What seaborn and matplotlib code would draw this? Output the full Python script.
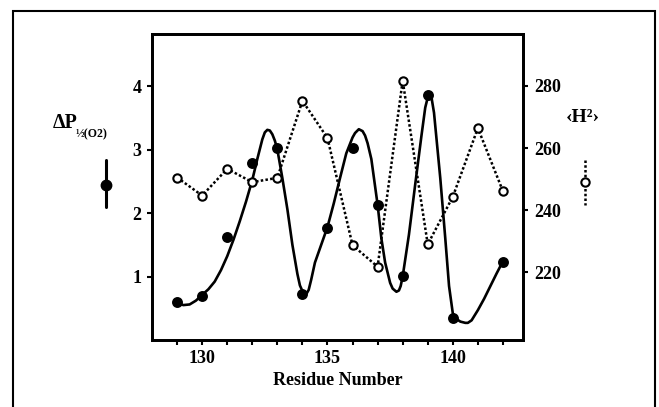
"""Delta P1/2(O2) and <H^2> versus residue number, twin-axis chart."""

import matplotlib

matplotlib.use("Agg")
import matplotlib.pyplot as plt
import seaborn as sns
from matplotlib.lines import Line2D
from matplotlib.patches import Rectangle

# measured oxygen affinity change (left axis, filled circles)
residue_dp = [129, 130, 131, 132, 133, 134, 135, 136, 137, 138, 139, 140, 142]
delta_p = [0.60, 0.70, 1.62, 2.79, 3.02, 0.73, 1.77, 3.02, 2.13, 1.01, 3.86, 0.35, 1.23]

# hydrophobic moment <H^2> (right axis, open circles, dotted)
residue_h = list(range(129, 143))
h_moment = [250.5, 244.7, 253.3, 249.0, 250.4, 275.2, 263.2,
            228.7, 221.8, 281.7, 229.0, 244.3, 266.4, 246.1]

# smooth curve drawn through the delta P data
curve_x = [129.0, 129.25, 129.5, 129.75, 130.0, 130.25, 130.5, 130.75, 131.0,
           131.25, 131.5, 131.75, 132.0, 132.2, 132.4, 132.5, 132.6, 132.7,
           132.8, 132.9, 133.0, 133.2, 133.4, 133.6, 133.8, 133.9, 134.0,
           134.1, 134.18, 134.25, 134.35, 134.5, 134.75, 135.0, 135.25, 135.5,
           135.75, 136.0, 136.1, 136.25, 136.4, 136.5, 136.6, 136.75, 137.0,
           137.15, 137.3, 137.5, 137.6, 137.75, 137.85, 137.92, 138.0, 138.25,
           138.5, 138.75, 138.9, 139.0, 139.08, 139.15, 139.25, 139.5, 139.7,
           139.85, 140.0, 140.15, 140.3, 140.5, 140.6, 140.75, 141.0, 141.25,
           141.5, 141.75, 142.0]
curve_y = [0.58, 0.55, 0.56, 0.62, 0.71, 0.80, 0.92, 1.10, 1.32,
           1.58, 1.87, 2.18, 2.52, 2.85, 3.16, 3.27, 3.31, 3.30,
           3.24, 3.14, 3.00, 2.55, 2.06, 1.50, 1.04, 0.86, 0.77,
           0.73, 0.74, 0.79, 0.95, 1.22, 1.50, 1.78, 2.15, 2.55,
           2.94, 3.19, 3.26, 3.32, 3.29, 3.22, 3.10, 2.85, 2.13,
           1.60, 1.22, 0.90, 0.81, 0.76, 0.78, 0.85, 1.00, 1.66,
           2.45, 3.22, 3.66, 3.82, 3.86, 3.82, 3.58, 2.55, 1.60,
           0.85, 0.42, 0.33, 0.29, 0.27, 0.27, 0.31, 0.47, 0.65,
           0.85, 1.05, 1.24]

x_ticks = list(range(129, 143))
x_labels = [str(v) if v % 5 == 0 else "" for v in x_ticks]
left_ticks = [1, 2, 3, 4]
right_ticks = [220, 240, 260, 280]

sns.set_theme(style="ticks")
plt.rcParams.update(
    {
        "font.family": ["Liberation Serif", "DejaVu Serif"],
        "font.weight": "bold",
        "text.color": "black",
        "axes.labelcolor": "black",
        "xtick.color": "black",
        "ytick.color": "black",
    }
)

fig = plt.figure(figsize=(6.59, 4.07), dpi=100)
fig.patch.set_facecolor("white")

ax = fig.add_axes([0.2307, 0.1646, 0.5629, 0.7519])
ax2 = ax.twinx()

sns.lineplot(x=curve_x, y=curve_y, ax=ax, color="black", lw=1.9, sort=False,
             solid_joinstyle="round", solid_capstyle="round")
sns.scatterplot(x=residue_dp, y=delta_p, ax=ax, color="black", s=62,
                edgecolor="black", linewidth=0, zorder=4)

sns.lineplot(x=residue_h, y=h_moment, ax=ax2, color="black", lw=1.8,
             linestyle=(0, (1, 0.9)), marker="o", markersize=6,
             markerfacecolor="white", markeredgecolor="black",
             markeredgewidth=1.5)

ax.set_xlim(128, 142.8)
ax.set_ylim(0, 4.82)
ax2.set_ylim(198.2, 296.7)

ax.set_xticks(x_ticks, x_labels)
ax.set_yticks(left_ticks)
ax2.set_yticks(right_ticks)

for a in (ax, ax2):
    for s in a.spines.values():
        s.set_visible(True)
        s.set_linewidth(2.0)
        s.set_color("black")
    a.tick_params(direction="out", length=3.5, width=1.5, pad=4,
                  labelsize=13, colors="black")
    a.set_facecolor("none")
ax2.tick_params(axis="y", pad=4.5)

ax.set_xlabel("Residue Number", fontsize=13, fontweight="bold", labelpad=3)
ax.set_ylabel("")
ax2.set_ylabel("")
ax.grid(False)
ax2.grid(False)

# left axis label with its marker key
main_lbl = fig.text(53 / 659, 1 - 128 / 407, "\u0394P", fontsize=14.5,
                    fontweight="bold", ha="left", va="baseline")
ax.annotate("\u00bd(O2)", xy=(1, 0), xycoords=main_lbl, xytext=(-1.5, -3),
            textcoords="offset points", fontsize=8.5, fontweight="bold",
            ha="left", va="baseline", annotation_clip=False)
fig.add_artist(Line2D([106 / 659, 106 / 659], [1 - 160 / 407, 1 - 207 / 407],
                      transform=fig.transFigure, color="black", lw=2.2))
fig.add_artist(Line2D([106 / 659], [1 - 185 / 407], transform=fig.transFigure,
                      marker="o", markersize=7.5, color="black", lw=0))

# right axis label with its marker key
fig.text(583 / 659, 1 - 117 / 407, "\u2039H\u00b2\u203a", fontsize=14,
         fontweight="bold", ha="center", va="center")
fig.add_artist(Line2D([585 / 659, 585 / 659], [1 - 160 / 407, 1 - 205 / 407],
                      transform=fig.transFigure, color="black", lw=1.8,
                      linestyle=(0, (1, 0.9))))
fig.add_artist(Line2D([585 / 659], [1 - 182 / 407], transform=fig.transFigure,
                      marker="o", markersize=6, markerfacecolor="white",
                      markeredgecolor="black", markeredgewidth=1.5, lw=0))

# outer frame (bottom edge falls outside the picture)
fig.add_artist(Rectangle((12.5 / 659, -0.05), (655 - 12.5) / 659,
                         1.05 - 10.5 / 407, transform=fig.transFigure,
                         fill=False, edgecolor="black", lw=1.5))

fig.savefig("out.png", dpi=100, facecolor="white")
